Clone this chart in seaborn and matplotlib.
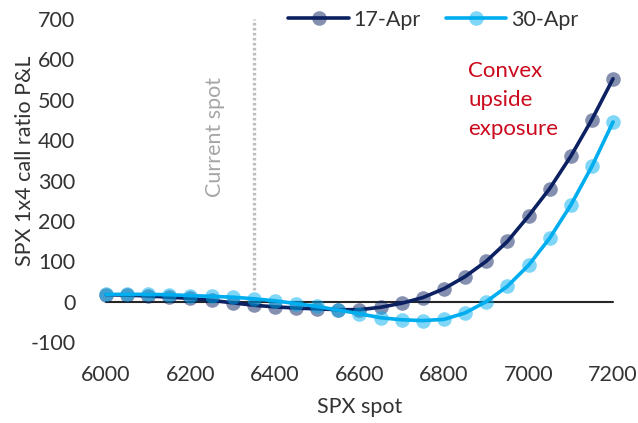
import numpy as np
import pandas as pd
import matplotlib
matplotlib.use("Agg")
import matplotlib.pyplot as plt
import seaborn as sns
from matplotlib.colors import to_rgba

spot = list(range(6000, 7201, 50))
pnl_17apr = [17, 16, 14, 11, 8, 3, -3, -9, -13, -16, -18, -20, -20, -14, -4,
             10, 32, 62, 100, 149, 212, 280, 360, 451, 552]
pnl_30apr = [18, 18, 18, 17, 15, 13, 11, 7, 2, -5, -12, -21, -30, -40, -45,
             -47, -44, -28, 0, 38, 90, 157, 239, 335, 445]
series_names = ["17-Apr", "30-Apr"]
current_spot = 6350

df = pd.DataFrame({"spot": spot, "17-Apr": pnl_17apr, "30-Apr": pnl_30apr})

sns.set_style("white")
plt.rcParams["font.family"] = ["Lato", "DejaVu Sans"]
plt.rcParams["axes.unicode_minus"] = False
text_col = "#333333"

fig = plt.figure(figsize=(6.38, 4.23), dpi=100)
ax = fig.add_axes([0.1528, 0.182, 0.8213, 0.7825])

colors = {"17-Apr": "#0C2161", "30-Apr": "#00AEEF"}

# zero line and current spot marker
ax.plot([6000, 7200], [0, 0], color="#262626", lw=1.5, zorder=1)
ax.plot([current_spot, current_spot], [30, 700], color="#BFBFBF", lw=2.4,
        linestyle=(0, (0.8, 0.7)), zorder=1)

for name in series_names:
    c = colors[name]
    sns.lineplot(data=df, x="spot", y=name, ax=ax, color=c, lw=2.6,
                 marker="o", markersize=10.5, markerfacecolor=to_rgba(c, 0.5),
                 markeredgewidth=0, label=name, zorder=3)

ax.text(6258, 409, "Current spot", rotation=90, ha="center", va="center",
        fontsize=15.5, color="#A6A6A6")
ax.text(6857, 596, "Convex\nupside\nexposure", ha="left", va="top",
        fontsize=16, color="#CC0A1E", linespacing=1.55)

ax.set_xlim(5980, 7220)
ax.set_ylim(-110, 710)
ax.set_xticks(range(6000, 7201, 200))
ax.set_yticks(range(-100, 701, 100))
ax.tick_params(axis="both", length=0, labelsize=15.5, colors=text_col)
ax.tick_params(axis="x", pad=14)
ax.tick_params(axis="y", pad=16)
for s in ax.spines.values():
    s.set_visible(False)

ax.set_xlabel("SPX spot", fontsize=15.5, color=text_col, labelpad=8)
ax.set_ylabel("SPX 1x4 call ratio P&L", fontsize=15.5, color=text_col)
ax.yaxis.set_label_coords(-0.12, 0.56)

ax.legend(loc="center", bbox_to_anchor=(0.679, 0.953), bbox_transform=fig.transFigure,
          ncol=2, frameon=False, fontsize=15.5, handlelength=2.8, handletextpad=0.2,
          columnspacing=1.2, labelcolor=text_col)

fig.savefig("out.png", dpi=100)
